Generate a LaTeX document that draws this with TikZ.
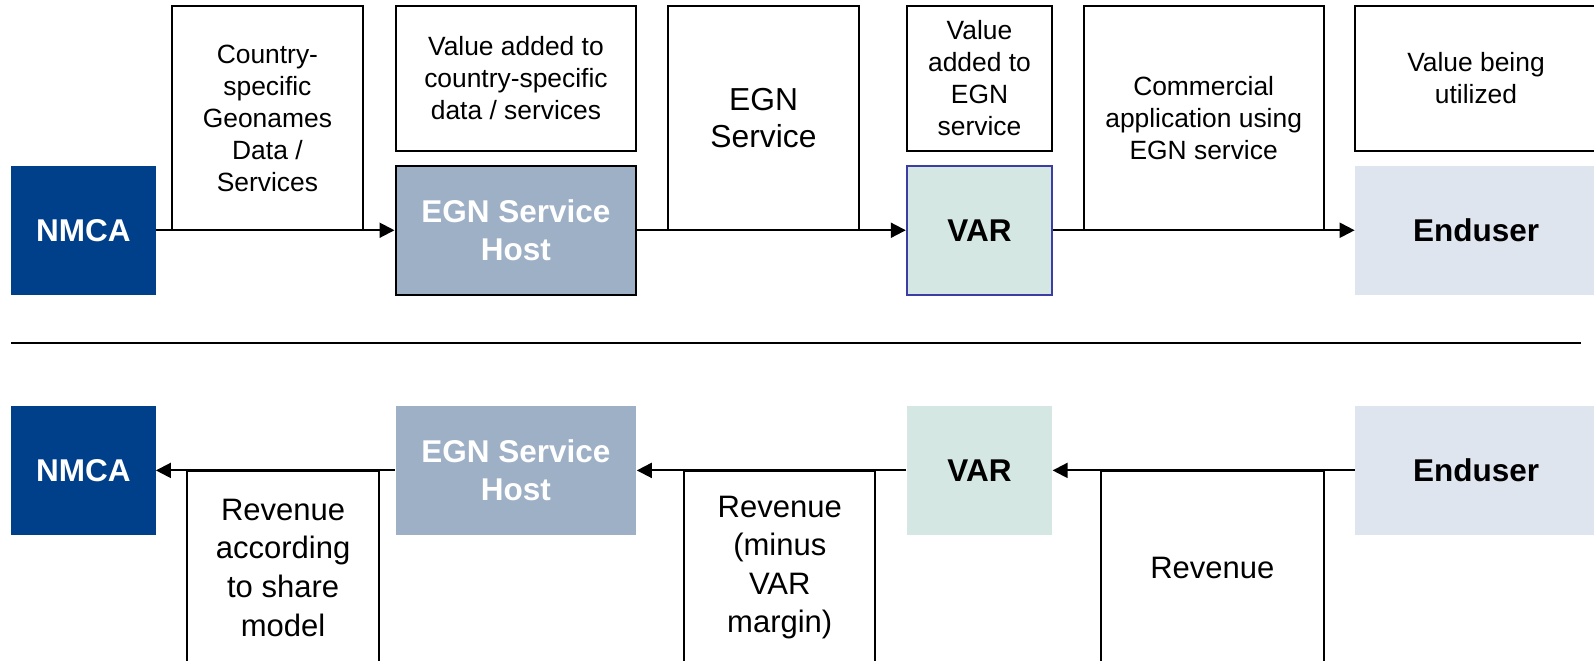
\documentclass[tikz,border=0pt]{standalone}
\usepackage{fontspec}
\setmainfont{Liberation Sans}
\usetikzlibrary{arrows.meta}
\definecolor{nmcablue}{RGB}{0,63,138}
\definecolor{hostblue}{RGB}{158,176,198}
\definecolor{vargreen}{RGB}{213,231,227}
\definecolor{endgrey}{RGB}{223,229,238}
\definecolor{varborder}{RGB}{60,60,165}
\begin{document}
\begin{tikzpicture}[x=0.5pt,y=-0.5pt,
  txtbox/.style={draw=black, line width=1pt, fill=white, align=center, inner sep=2pt,
    font=\fontsize{13.2}{16}\selectfont},
  tallbox/.style={txtbox, minimum height=111.85pt},
  shortbox/.style={txtbox, minimum height=72.2pt},
  revbox/.style={draw=black, line width=1pt, align=center, inner sep=2pt,
    minimum height=96.65pt, font=\fontsize{15.5}{19.3}\selectfont},
  actor/.style={inner sep=0pt, align=center, minimum height=64.55pt,
    font=\fontsize{15.75}{18.8}\selectfont\bfseries},
  nmcastyle/.style={actor, fill=nmcablue, text=white, minimum width=72.15pt},
  hoststyle/.style={actor, fill=hostblue, text=white, minimum width=120.45pt},
  varstyle/.style={actor, fill=vargreen, text=black, minimum width=72.7pt},
  endstyle/.style={actor, fill=endgrey, text=black, minimum width=120.95pt},
  arr/.style={line width=1pt, -{Triangle[length=7.5pt,width=7.5pt]}}
]
\useasboundingbox (0,0) rectangle (1594,660);
\clip (0,0) rectangle (1594,660);

% ---------- top row ----------
\node[nmcastyle] (nmcaT) at (83.35,230.25) {NMCA};
\node[hoststyle, draw=black, line width=1pt] (hostT) at (515.95,230.25) {EGN Service\\Host};
\node[varstyle, draw=varborder, line width=1pt] (varT) at (979.5,230.25) {VAR};
\node[endstyle] (endT) at (1476,230.25) {Enduser};

\node[tallbox, minimum width=95.6pt] (b1) at (267.4,117.95) {Country-\\specific\\Geonames\\Data /\\Services};
\node[shortbox, minimum width=120.45pt] (b2) at (515.95,78.3) {Value added to\\country-specific\\data / services};
\node[tallbox, minimum width=95.5pt, font=\fontsize{15.9}{18.5}\selectfont] (b3) at (763.5,117.95) {EGN\\Service};
\node[shortbox, minimum width=72.7pt] (b4) at (979.5,78.3) {Value\\added to\\EGN\\service};
\node[tallbox, minimum width=119.95pt] (b5) at (1203.65,117.95) {Commercial\\application using\\EGN service};
\node[shortbox, minimum width=120.95pt] (b6) at (1476,78.3) {Value being\\utilized};

\draw[arr] (nmcaT) -- (hostT);
\draw[arr] (hostT) -- (varT);
\draw[arr] (varT) -- (endT);

% ---------- separator ----------
\coordinate (sepL) at (11.2,342.6);
\coordinate (sepR) at (1580.8,342.6);
\draw[line width=1pt] (sepL) -- (sepR);

% ---------- bottom row ----------
\node[nmcastyle] (nmcaB) at (83.35,470.4) {NMCA};
\node[hoststyle] (hostB) at (515.95,470.4) {EGN Service\\Host};
\node[varstyle] (varB) at (979.5,470.4) {VAR};
\node[endstyle] (endB) at (1476,470.4) {Enduser};

\node[revbox, minimum width=96.1pt] (r1) at (283.1,567.6) {Revenue\\according\\to share\\model};
\node[revbox, minimum width=95.55pt] (r2) at (779.75,567.6) {Revenue\\(minus\\VAR\\margin)};
\node[revbox, minimum width=111.3pt] (r3) at (1212.3,567.6) {Revenue};

\draw[arr] (hostB) -- (nmcaB);
\draw[arr] (varB) -- (hostB);
\draw[arr] (endB) -- (varB);
\end{tikzpicture}
\end{document}
